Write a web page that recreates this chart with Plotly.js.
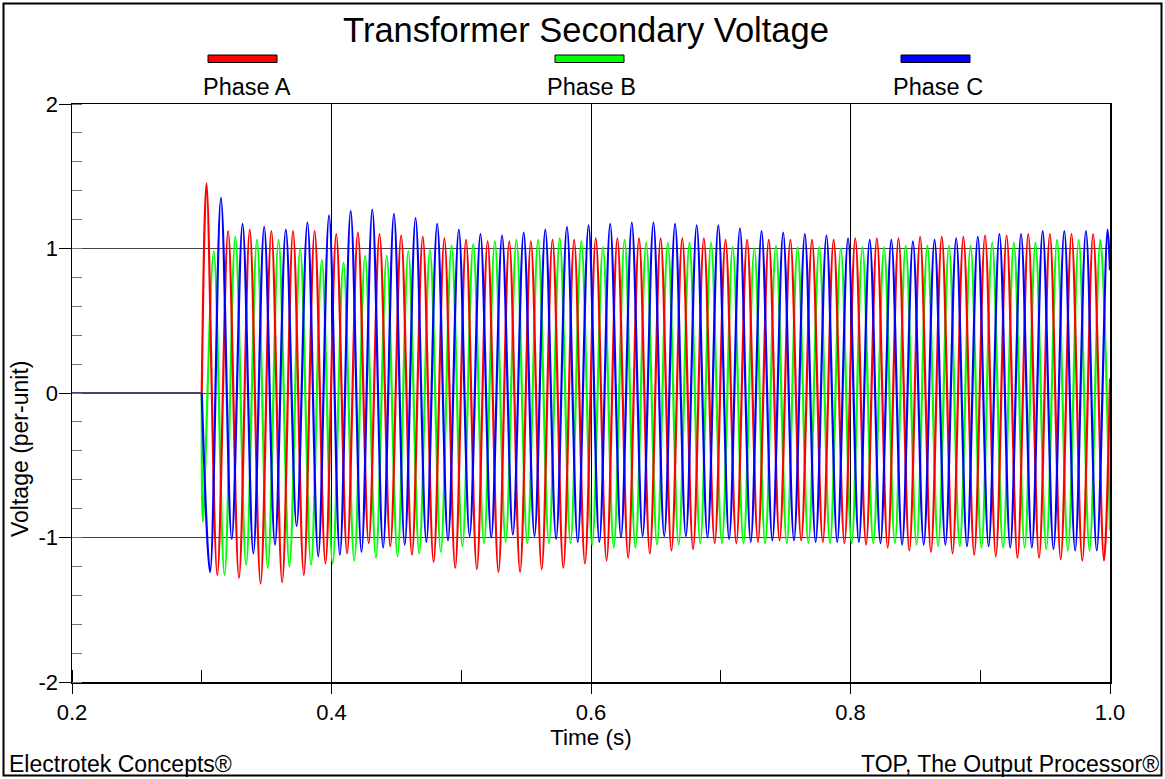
<!DOCTYPE html>
<html><head><meta charset="utf-8">
<script src="https://cdn.plot.ly/plotly-3.0.1.min.js"></script>
<style>html,body{margin:0;padding:0;background:#fff;}#chart{width:1165px;height:779px;}</style>
</head><body><div id="chart"></div>
<script>
// ---------- text ----------
const chartTitle = "Transformer Secondary Voltage";
const seriesNames = ["Phase A", "Phase B", "Phase C"];
const seriesColors = ["#ff0000", "#00ff00", "#0000ff"];
const xTitle = "Time (s)";
const yTitle = "Voltage (per-unit)";
const xTickVals = [0.2, 0.4, 0.6, 0.8, 1.0];
const xTickText = ["0.2", "0.4", "0.6", "0.8", "1.0"];
const yTickVals = [-2, -1, 0, 1, 2];
const yTickText = ["-2", "-1", "0", "1", "2"];
const footerLeft = "Electrotek Concepts®";
const footerRight = "TOP, The Output Processor®";

// ---------- timing ----------
const startTime = 0.2, onsetTime = 0.3, endTime = 1.0;
const frequencyHz = 60;
const firstCycle = 18;              // cycle index of first half-wave after switching
// fraction of a cycle at which each phase reaches its positive peak
const phaseA_peakPhase = 0.22;
const phaseB_peakPhase = 0.553;
const phaseC_peakPhase = 0.887;

// ---------- per-cycle extremes (per-unit), cycles 18..59 ----------
const phaseA_peaks = [1.45,1.12,1.13,1.12,1.12,1.12,1.10,1.11,1.10,1.09,1.08,1.07,1.06,1.05,1.05,1.05,1.06,1.06,
  1.07,1.07,1.07,1.07,1.07,1.07,1.06,1.06,1.06,1.06,1.06,1.06,1.07,1.07,1.07,1.08,1.08,1.08,1.09,1.09,1.10,1.10,1.10,1.10];
const phaseA_troughs = [-1.26,-1.28,-1.32,-1.31,-1.26,-1.18,-1.11,-1.04,
  -1.06,-1.12,-1.17,-1.21,-1.22,-1.24,-1.24,-1.22,-1.21,-1.18,
  -1.16,-1.14,-1.11,-1.09,-1.08,-1.04,
  -1.04,-1.03,-1.02,-1.02,-1.03,-1.04,-1.05,-1.07,
  -1.09,-1.10,-1.11,-1.12,-1.13,-1.14,-1.14,-1.15,-1.16,-1.16];
const phaseB_peaks = [0.98,1.08,1.06,1.06,1.00,0.92,0.90,0.95,0.95,
  0.98,0.99,1.02,1.03,1.05,1.06,1.06,1.07,1.05,
  1.01,1.06,1.04,1.04,1.04,1.04,1.01,
  1.00,1.02,1.01,1.01,1.00,1.01,1.01,
  1.02,1.02,1.02,1.02,1.04,1.04,1.04,1.06,1.06,1.06];
const phaseB_troughs = [-0.89,-1.26,-1.19,-1.21,-1.20,-1.19,-1.18,-1.16,-1.14,
  -1.13,-1.11,-1.10,-1.06,-1.04,-1.03,-1.04,-1.04,-1.04,
  -1.05,-1.07,-1.07,-1.05,-1.05,-1.04,-1.04,-1.04,
  -1.04,-1.04,-1.04,-1.04,-1.04,-1.04,-1.04,
  -1.05,-1.06,-1.06,-1.07,-1.07,-1.07,-1.08,-1.09,-1.09];
const phaseC_peaks = [1.35,1.17,1.15,1.13,1.18,1.23,1.26,1.27,1.24,1.21,1.17,1.13,1.10,1.09,1.11,1.13,1.15,1.16,
  1.17,1.18,1.18,1.17,1.16,1.16,1.14,1.12,1.11,1.10,1.09,1.07,1.06,1.06,1.05,1.06,1.07,1.08,1.10,1.10,1.12,1.12,1.12,1.13];
const phaseC_troughs = [-1.24,-1.01,-1.11,-1.05,-0.92,-1.13,-1.12,-1.10,-1.07,-1.05,-1.03,-1.02,-0.99,-1.00,-0.98,-0.99,-1.01,-1.03,
  -1.03,-1.00,-0.99,-0.99,-0.99,-1.00,-1.01,-1.03,-1.02,-1.02,-1.03,-1.03,-1.03,-1.04,-1.05,-1.05,-1.05,-1.06,-1.06,-1.07,-1.07,-1.08,-1.09,-1.09];
// value of each phase at the right edge (t = 1.0)
const phaseA_end = 0.1, phaseB_end = -0.95, phaseC_end = 0.85;

// ---------- build series ----------
function buildSeries(peaks, troughs, peakPhase, endVal) {
  const ev = [];
  let troughPhase = peakPhase + 0.5; if (troughPhase >= 1) troughPhase -= 1;
  peaks.forEach((v, i) => ev.push([(firstCycle + i + peakPhase) / frequencyHz, v]));
  troughs.forEach((v, i) => ev.push([(firstCycle + i + troughPhase) / frequencyHz, v]));
  ev.sort((a, b) => a[0] - b[0]);
  const x = [onsetTime], y = [0];
  ev.forEach(p => { if (p[0] > onsetTime && p[0] < endTime) { x.push(p[0]); y.push(p[1]); } });
  x.push(endTime); y.push(endVal);
  return {x, y};
}
const sA = buildSeries(phaseA_peaks, phaseA_troughs, phaseA_peakPhase, phaseA_end);
const sB = buildSeries(phaseB_peaks, phaseB_troughs, phaseB_peakPhase, phaseB_end);
const sC = buildSeries(phaseC_peaks, phaseC_troughs, phaseC_peakPhase, phaseC_end);
const series = [sA, sB, sC];

const traces = [];
const drawOrder = [1, 0, 2];
drawOrder.forEach(i => {
  traces.push({x: [startTime, onsetTime], y: [0, 0], type: 'scatter', mode: 'lines', showlegend: false,
    hoverinfo: 'skip', line: {color: i === 2 ? '#1f3c99' : seriesColors[i], width: 1.5}});
});
drawOrder.forEach(i => {
  traces.push({x: series[i].x, y: series[i].y, name: seriesNames[i], type: 'scatter', mode: 'lines',
    line: {color: seriesColors[i], width: 2.2, shape: 'spline', smoothing: 1}});
});

// ---------- layout helpers (pixel -> paper) ----------
const L = 72, R = 1110, T = 104, B = 682;
const px = p => (p - L) / (R - L);
const py = p => (B - p) / (B - T);
const FONT = "Liberation Sans, Arial, sans-serif";

const legendBoxes = [[208, 277], [555, 624], [901, 970]];
const legendLabelX = [246.5, 591, 937.5];
const shapes = [{type: 'rect', xref: 'paper', yref: 'paper', x0: px(3.5), x1: px(1161.5), y0: py(775.5), y1: py(3.5),
  line: {color: '#000', width: 2}, fillcolor: 'rgba(0,0,0,0)'}];
const annotations = [];
legendBoxes.forEach((b, i) => {
  shapes.push({type: 'rect', xref: 'paper', yref: 'paper', x0: px(b[0]), x1: px(b[1]), y0: py(62.5), y1: py(55),
    line: {color: '#000', width: 1}, fillcolor: seriesColors[i]});
  annotations.push({xref: 'paper', yref: 'paper', x: px(legendLabelX[i]), y: py(87), xanchor: 'center', yanchor: 'middle',
    text: seriesNames[i], showarrow: false, font: {family: FONT, size: 23.5, color: '#000'}});
});
annotations.push({xref: 'paper', yref: 'paper', x: px(7), y: py(764), xanchor: 'left', yanchor: 'middle',
  text: footerLeft, showarrow: false, font: {family: FONT, size: 23, color: '#000'}});
annotations.push({xref: 'paper', yref: 'paper', x: px(1161), y: py(764), xanchor: 'right', yanchor: 'middle',
  text: footerRight, showarrow: false, font: {family: FONT, size: 23, color: '#000'}});
annotations.push({xref: 'paper', yref: 'paper', x: px(20), y: py(449), xanchor: 'center', yanchor: 'middle', textangle: -90,
  text: yTitle, showarrow: false, font: {family: FONT, size: 23, color: '#000'}});

const layout = {
  width: 1165, height: 779,
  margin: {l: L, r: 1165 - R, t: T, b: 779 - B, pad: 0},
  paper_bgcolor: '#fff', plot_bgcolor: '#fff',
  font: {family: FONT, color: '#000'},
  showlegend: false,
  title: {text: chartTitle, x: 586 / 1165, xanchor: 'center', xref: 'container', y: 1 - 30 / 779, yanchor: 'middle', yref: 'container',
    font: {family: FONT, size: 34.5, color: '#000'}},
  xaxis: {range: [startTime, endTime], tickmode: 'array', tickvals: xTickVals, ticktext: xTickText,
    ticks: 'outside', ticklen: 10, tickwidth: 1, tickcolor: '#000',
    showgrid: true, gridcolor: '#000', gridwidth: 1, zeroline: false,
    showline: true, linecolor: '#000', linewidth: 1.5, mirror: true,
    tickfont: {family: FONT, size: 22, color: '#000'},
    minor: {ticks: 'inside', tickmode: 'linear', tick0: 0.2, dtick: 0.1, ticklen: 12, tickwidth: 1, tickcolor: '#000', showgrid: false},
    title: {text: xTitle, font: {family: FONT, size: 22.5, color: '#000'}, standoff: 1},
    automargin: false, fixedrange: true},
  yaxis: {range: [-2, 2], tickmode: 'array', tickvals: yTickVals, ticktext: yTickText,
    ticks: 'outside', ticklen: 12, tickwidth: 1, tickcolor: '#000',
    showgrid: true, gridcolor: '#444', gridwidth: 1, zeroline: false,
    showline: true, linecolor: '#000', linewidth: 1.5, mirror: true,
    ticklabelstandoff: -4,
    tickfont: {family: FONT, size: 22, color: '#000'},
    minor: {ticks: 'inside', tickmode: 'linear', tick0: -2, dtick: 0.2, ticklen: 10, tickwidth: 1, tickcolor: '#777', showgrid: false},
    automargin: false, fixedrange: true},
  shapes: shapes,
  annotations: annotations
};
Plotly.newPlot('chart', traces, layout, {displayModeBar: false, staticPlot: true});
</script></body></html>
